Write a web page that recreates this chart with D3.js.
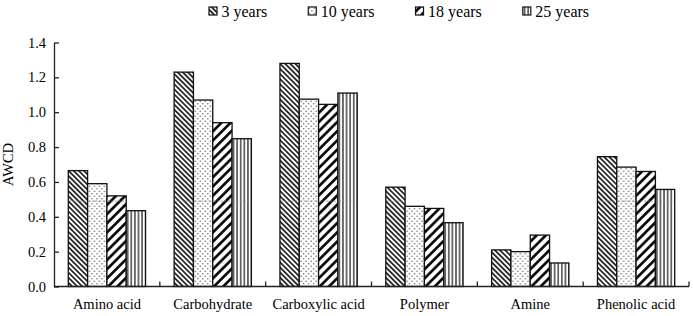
<!DOCTYPE html>
<html>
<head>
<meta charset="utf-8">
<script src="https://cdn.jsdelivr.net/npm/d3@7"></script>
<style>
  html, body { margin: 0; padding: 0; background: #fff; }
  svg { display: block; }
  svg text { font-family: "Liberation Serif", "Times New Roman", "DejaVu Serif", serif; fill: #000; }
</style>
</head>
<body>
<svg id="chart" width="693" height="316" font-family="Liberation Serif, serif"></svg>
<script>
const categories = ["Amino acid", "Carbohydrate", "Carboxylic acid", "Polymer", "Amine", "Phenolic acid"];
const seriesNames = ["3 years", "10 years", "18 years", "25 years"];
const years3  = [0.665, 1.23, 1.28, 0.57, 0.21, 0.745];
const years10 = [0.59, 1.07, 1.075, 0.46, 0.2, 0.685];
const years18 = [0.52, 0.94, 1.045, 0.448, 0.295, 0.66];
const years25 = [0.435, 0.848, 1.11, 0.366, 0.135, 0.557];
const yTicks = [0, 0.2, 0.4, 0.6, 0.8, 1, 1.2, 1.4];
const faintLine = 0.49;

const seriesValues = [years3, years10, years18, years25];
const data = categories.map((c, i) => ({
  category: c,
  values: seriesNames.map((s, j) => ({ series: s, idx: j, value: seriesValues[j][i] }))
}));

const svg = d3.select("#chart");
const margin = { top: 42.5, right: 4, bottom: 29.5, left: 54 };
const width = 693, height = 316;

// hatch patterns
const defs = svg.append("defs");
function linePattern(id, size, angle, sw) {
  const p = defs.append("pattern")
    .attr("id", id)
    .attr("patternUnits", "userSpaceOnUse")
    .attr("width", size).attr("height", size)
    .attr("patternTransform", `rotate(${angle})`);
  p.append("rect").attr("width", size).attr("height", size).attr("fill", "#fff");
  p.append("line")
    .attr("x1", size / 2).attr("y1", 0).attr("x2", size / 2).attr("y2", size)
    .attr("stroke", "#000").attr("stroke-width", sw);
}
linePattern("p0", 3.6, -45, 1.5);
linePattern("p2", 6.5, 45, 2.6);
linePattern("p3", 3.6, 0, 1.1);
const dots = defs.append("pattern")
  .attr("id", "p1")
  .attr("patternUnits", "userSpaceOnUse")
  .attr("width", 5).attr("height", 5);
dots.append("rect").attr("width", 5).attr("height", 5).attr("fill", "#fff");
dots.append("circle").attr("cx", 1.2).attr("cy", 1.2).attr("r", 0.75).attr("fill", "#666");
dots.append("circle").attr("cx", 3.7).attr("cy", 3.7).attr("r", 0.75).attr("fill", "#666");

const fills = ["url(#p0)", "url(#p1)", "url(#p2)", "url(#p3)"];

const x0 = d3.scaleBand()
  .domain(categories)
  .range([margin.left, width - margin.right])
  .paddingInner(0.27)
  .paddingOuter(0.135);

const x1 = d3.scaleBand()
  .domain(seriesNames)
  .range([0, x0.bandwidth()]);

const y = d3.scaleLinear()
  .domain([0, 1.4])
  .range([height - margin.bottom, margin.top]);

const step = x0.step();
const groupStart = x => x0(x) - x0.paddingInner() * step / 2;

// bars
const groups = svg.append("g")
  .selectAll("g")
  .data(data)
  .join("g")
  .attr("transform", d => `translate(${x0(d.category)},0)`);

groups.selectAll("rect")
  .data(d => d.values)
  .join("rect")
  .attr("x", d => x1(d.series))
  .attr("y", d => y(d.value))
  .attr("width", x1.bandwidth())
  .attr("height", d => y(0) - y(d.value))
  .attr("fill", d => fills[d.idx])
  .attr("stroke", "#111")
  .attr("stroke-width", 1.3);

// faint dotted line seen across the taller bars
groups.selectAll("line.faint")
  .data(d => d.values.filter(v => v.value > faintLine))
  .join("line")
  .attr("class", "faint")
  .attr("x1", d => x1(d.series) + 1)
  .attr("x2", d => x1(d.series) + x1.bandwidth() - 1)
  .attr("y1", y(faintLine)).attr("y2", y(faintLine))
  .attr("stroke", "#888")
  .attr("stroke-width", 0.8)
  .attr("stroke-dasharray", "2,1.5");

// y axis, ticks inward
const yAxis = svg.append("g")
  .attr("transform", `translate(${margin.left},0)`)
  .call(d3.axisLeft(y).tickValues(yTicks).tickSizeInner(-5).tickSizeOuter(0).tickPadding(8));
yAxis.attr("font-family", null);
yAxis.select(".domain").attr("stroke", "#222").attr("stroke-width", 1.3);
yAxis.selectAll(".tick line").attr("stroke", "#222").attr("stroke-width", 1.3);
yAxis.selectAll("text")
  .attr("font-size", "14.5px");

// x axis line and category separators
svg.append("line")
  .attr("x1", margin.left).attr("x2", width - margin.right)
  .attr("y1", y(0)).attr("y2", y(0))
  .attr("stroke", "#222").attr("stroke-width", 1.3);

svg.append("g")
  .selectAll("line")
  .data(categories.slice(1).concat(["__end"]))
  .join("line")
  .attr("x1", d => d === "__end" ? width - margin.right : groupStart(d))
  .attr("x2", d => d === "__end" ? width - margin.right : groupStart(d))
  .attr("y1", y(0)).attr("y2", y(0) - 5)
  .attr("stroke", "#222").attr("stroke-width", 1.3);

svg.append("g")
  .selectAll("text")
  .data(categories)
  .join("text")
  .attr("x", d => x0(d) + x0.bandwidth() / 2)
  .attr("y", 308.5)
  .attr("text-anchor", "middle")
  .attr("font-size", "14.5px")
  .text(d => d);

// y title
svg.append("text")
  .attr("transform", `translate(13,${(y(0) + y(1.4)) / 2}) rotate(-90)`)
  .attr("text-anchor", "middle")
  .attr("font-size", "14.5px")
  .text("AWCD");

// legend
const legend = svg.append("g");
let lx = 209;
seriesNames.forEach((s, i) => {
  const g = legend.append("g").attr("transform", `translate(${lx},7)`);
  g.append("rect")
    .attr("width", 8).attr("height", 8)
    .attr("fill", fills[i])
    .attr("stroke", "#111").attr("stroke-width", 1.2);
  const t = g.append("text")
    .attr("x", 12.5).attr("y", 9.5)
    .attr("font-size", "16px")
    .text(s);
  lx += 12.5 + t.node().getComputedTextLength() + 41;
});
</script>
</body>
</html>
